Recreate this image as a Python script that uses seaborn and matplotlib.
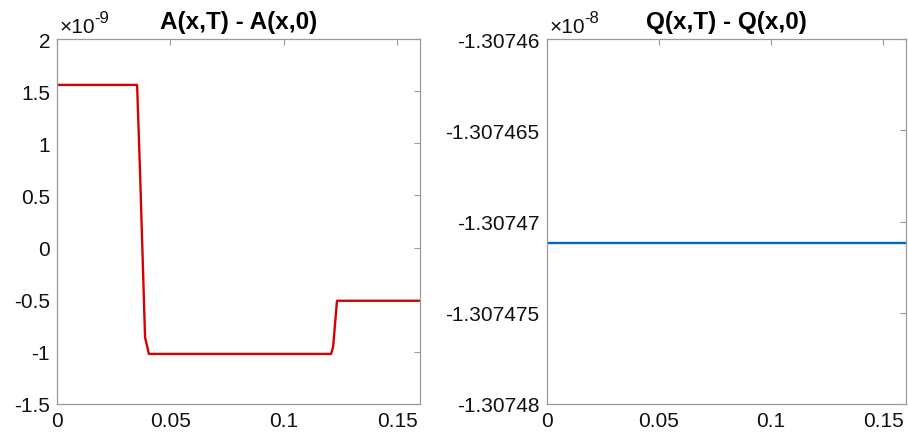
import numpy as np
import pandas as pd
import matplotlib
matplotlib.use("Agg")
import matplotlib.pyplot as plt
import seaborn as sns

# A(x,T) - A(x,0), values in units of 1e-9
a_x = [0.0, 0.0353, 0.0366, 0.0388, 0.0405, 0.1208, 0.1217, 0.1234, 0.16]
a_diff = [1.56, 1.56, 0.72, -0.86, -1.02, -1.02, -0.95, -0.51, -0.51]
a_exp = "-9"

# Q(x,T) - Q(x,0), values in units of 1e-8 (constant)
q_x = [0.0, 0.16]
q_diff = [-1.3074712, -1.3074712]
q_exp = "-8"

titles = ["A(x,T) - A(x,0)", "Q(x,T) - Q(x,0)"]
a_yticks = [-1.5, -1, -0.5, 0, 0.5, 1, 1.5, 2]
a_ylabels = ["-1.5", "-1", "-0.5", "0", "0.5", "1", "1.5", "2"]
q_yticks = [-1.30748, -1.307475, -1.30747, -1.307465, -1.30746]
q_ylabels = ["-1.30748", "-1.307475", "-1.30747", "-1.307465", "-1.30746"]
xticks = [0, 0.05, 0.1, 0.15]
xlabels = ["0", "0.05", "0.1", "0.15"]

sns.set_style("white")
plt.rcParams['font.family'] = ['Liberation Sans', 'DejaVu Sans']
plt.rcParams['axes.unicode_minus'] = False

fig = plt.figure(figsize=(9.08, 4.35), dpi=100)
ax1 = fig.add_axes([0.0628, 0.069, 0.3998, 0.839])
ax2 = fig.add_axes([0.602, 0.069, 0.3957, 0.839])

df_a = pd.DataFrame({"x": a_x, "y": a_diff})
df_q = pd.DataFrame({"x": q_x, "y": q_diff})

sns.lineplot(data=df_a, x="x", y="y", ax=ax1, color="#d60000", linewidth=1.7, sort=False)
sns.lineplot(data=df_q, x="x", y="y", ax=ax2, color="#0066c8", linewidth=1.7, sort=False)

spine_col = "#9a9a9a"
txt_col = "#111111"
for ax, title, exp in [(ax1, titles[0], a_exp), (ax2, titles[1], q_exp)]:
    ax.set_xlim(0, 0.16)
    ax.set_xticks(xticks)
    ax.set_xticklabels(xlabels)
    ax.set_xlabel("")
    ax.set_ylabel("")
    ax.tick_params(direction="in", length=4, width=0.8, color=spine_col,
                   labelsize=15, labelcolor=txt_col, top=True, right=True, pad=5)
    for s in ax.spines.values():
        s.set_color(spine_col)
        s.set_linewidth(0.9)
    ax.set_title(title, fontsize=17.5, fontweight="bold", pad=8, color="black")
    # MATLAB-style exponent label: "x10" with raised "-9"
    ax.annotate("\u00d710", xy=(0, 1), xycoords="axes fraction",
                xytext=(2, 5), textcoords="offset points",
                fontsize=15, ha="left", va="baseline", color=txt_col)
    ax.annotate(exp, xy=(0, 1), xycoords="axes fraction",
                xytext=(27, 12), textcoords="offset points",
                fontsize=12, ha="left", va="baseline", color=txt_col)

ax1.set_ylim(-1.5, 2)
ax1.set_yticks(a_yticks)
ax1.set_yticklabels(a_ylabels)

ax2.set_ylim(-1.30748, -1.30746)
ax2.set_yticks(q_yticks)
ax2.set_yticklabels(q_ylabels)

fig.savefig("out.png", dpi=100)
